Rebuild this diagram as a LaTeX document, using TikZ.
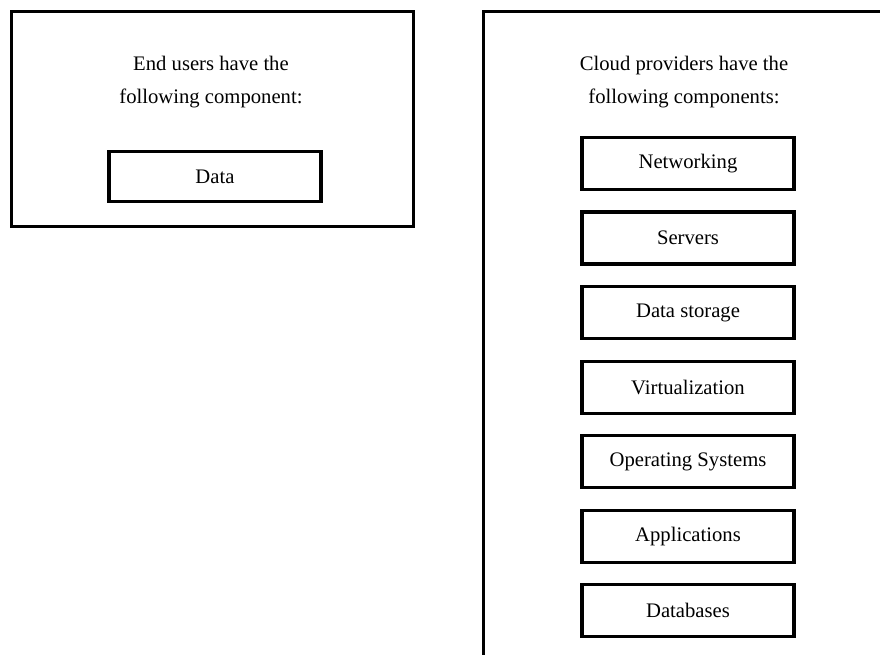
\documentclass[tikz,border=0pt]{standalone}
\usepackage{fontspec}
\setmainfont{Liberation Serif}
\usetikzlibrary{positioning}

\begin{document}
\begin{tikzpicture}[
    x=0.75pt, y=-0.75pt,
    groupbox/.style={rectangle, draw, line width=2.4pt, outer sep=0pt},
    heading/.style={align=center, font=\fontsize{15.5}{25}\selectfont},
    comp/.style={rectangle, draw, line width=2.4pt, outer sep=0pt, minimum width=159pt, minimum height=39pt, font=\fontsize{15.5}{18}\selectfont},
    node distance=16.9pt
  ]
    \useasboundingbox (0,0) rectangle (880,654);
    \clip (0,0) rectangle (880,654);

    % End users
    \node[groupbox, minimum width=301.5pt, minimum height=161.25pt] (users) at (212.5,119) {};
    \node[heading] (usertitle) at (211,82) {End users have the\\following component:};
    \node[comp, minimum height=37.5pt] (data) at (215,176.5) {Data};

    % Cloud providers
    \node[groupbox, anchor=north west, minimum width=400pt, minimum height=520pt] (providers) at (483.5,11.5) {};
    \node[heading] (provtitle) at (684,82) {Cloud providers have the\\following components:};
    \node[comp] (net) at (688,163.5) {Networking};
    \node[comp, below=of net] (srv) {Servers};
    \node[comp, below=of srv] (stor) {Data storage};
    \node[comp, below=of stor] (virt) {Virtualization};
    \node[comp, below=of virt] (os) {Operating Systems};
    \node[comp, below=of os] (apps) {Applications};
    \node[comp, below=of apps] (db) {Databases};
\end{tikzpicture}
\end{document}
